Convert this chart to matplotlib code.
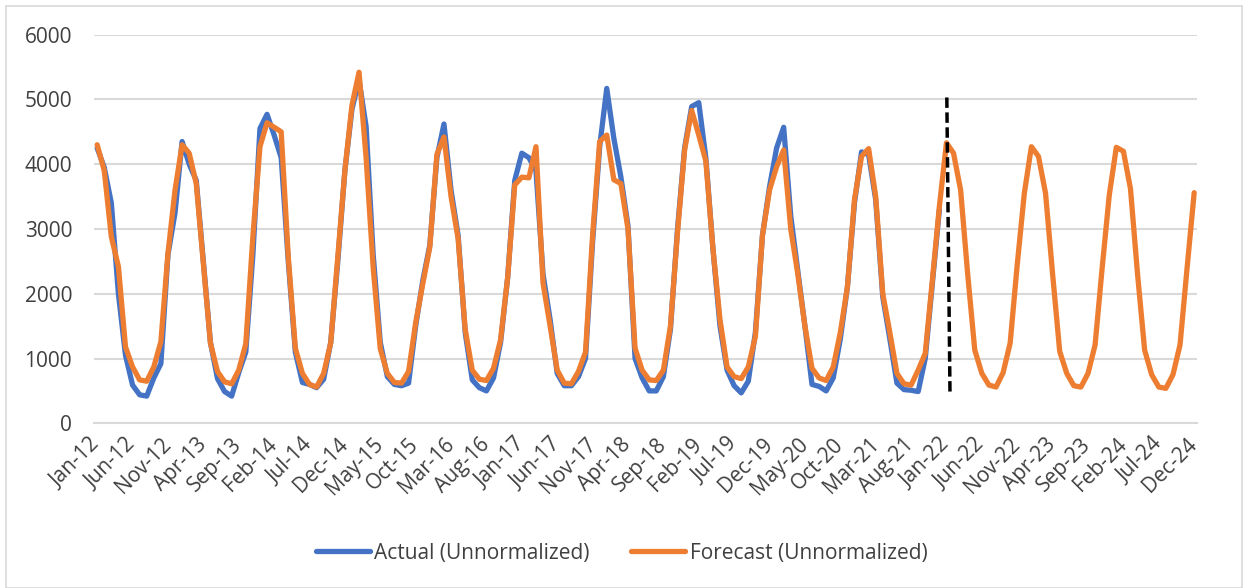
import pandas as pd
import matplotlib
matplotlib.use("Agg")
import matplotlib.pyplot as plt
from matplotlib.patches import Rectangle

# monthly categories Jan-12 .. Dec-24
months = pd.date_range("2012-01-01", "2024-12-01", freq="MS").strftime("%b-%y").tolist()

# actual values, Jan-12 .. Dec-21
actual = [
    4250, 3950, 3400, 2000, 1050, 590, 440, 420, 700, 920, 2600, 3250,
    4350, 4000, 3750, 2500, 1250, 690, 490, 420, 780, 1100, 2600, 4550,
    4770, 4450, 4100, 2500, 1100, 630, 600, 550, 680, 1250, 2500, 3900,
    4850, 5300, 4580, 2600, 1250, 720, 600, 580, 620, 1500, 2200, 2750,
    4100, 4620, 3600, 2900, 1400, 670, 550, 500, 700, 1250, 2250, 3750,
    4170, 4100, 3900, 2300, 1600, 770, 580, 580, 720, 1000, 2800, 4270,
    5170, 4400, 3800, 3050, 1000, 700, 500, 500, 720, 1450, 3000, 4250,
    4890, 4950, 4100, 2700, 1500, 820, 580, 470, 650, 1400, 2900, 3650,
    4250, 4570, 3200, 2350, 1500, 600, 570, 500, 700, 1300, 2100, 3400,
    4190, 4150, 3450, 1950, 1300, 620, 520, 510, 490, 1000, 2150, 3300,
]

# forecast values, Jan-12 .. Dec-24
forecast = [
    4300, 3900, 2880, 2420, 1180, 870, 670, 650, 870, 1260, 2620, 3600,
    4300, 4170, 3700, 2470, 1240, 800, 640, 610, 820, 1230, 2880, 4270,
    4640, 4570, 4500, 2570, 1160, 770, 600, 560, 770, 1240, 2570, 3900,
    4910, 5420, 4100, 2400, 1150, 770, 630, 620, 800, 1550, 2150, 2720,
    4150, 4420, 3500, 2850, 1450, 820, 680, 660, 850, 1290, 2250, 3680,
    3800, 3790, 4270, 2160, 1500, 820, 620, 610, 800, 1100, 2900, 4350,
    4450, 3760, 3700, 3000, 1160, 820, 670, 660, 820, 1500, 2950, 4220,
    4830, 4450, 4050, 2700, 1600, 870, 720, 690, 870, 1340, 2900, 3600,
    3960, 4220, 3000, 2300, 1500, 850, 700, 660, 870, 1400, 2100, 3450,
    4120, 4240, 3500, 2000, 1400, 770, 610, 590, 820, 1080, 2200, 3350,
    4330, 4170, 3600, 2300, 1130, 770, 590, 560, 780, 1240, 2450, 3550,
    4270, 4120, 3550, 2300, 1110, 770, 580, 560, 770, 1210, 2400, 3520,
    4260, 4200, 3620, 2300, 1130, 750, 560, 540, 750, 1210, 2400, 3560,
]

# forecast start marker (position in months from Jan-12, top and bottom value)
split_x = [120.05, 120.5]
split_y = [5030, 440]

plt.rcParams["font.family"] = ["Open Sans", "DejaVu Sans"]
text_color = "#404040"
grid_color = "#d9d9d9"

fig = plt.figure(figsize=(12.43, 5.88), dpi=100)
ax = fig.add_axes([0.0759, 0.2801, 0.8871, 0.661])

x_all = list(range(len(forecast)))
ax.plot(x_all[:len(actual)], actual, color="#4472C4", lw=3.8,
        solid_joinstyle="round", solid_capstyle="round",
        label="Actual (Unnormalized)", zorder=3)
ax.plot(x_all, forecast, color="#ED7D31", lw=3.8,
        solid_joinstyle="round", solid_capstyle="round",
        label="Forecast (Unnormalized)", zorder=4)
ax.plot(split_x, split_y, color="black", lw=2.5, dashes=(3, 1.3), zorder=5)

ax.set_xlim(-0.4, len(forecast) - 1 + 0.4)
ax.set_ylim(0, 6000)
ax.set_yticks(range(0, 6001, 1000))
ax.grid(axis="y", color=grid_color, lw=1.5)
ax.set_axisbelow(True)
for s in ["top", "right", "left"]:
    ax.spines[s].set_visible(False)
ax.spines["bottom"].set_color(grid_color)
ax.spines["bottom"].set_linewidth(1.5)

ticks = x_all[::5]
ax.set_xticks(ticks)
ax.set_xticklabels([months[i] for i in ticks], rotation=45, ha="right",
                   va="center", rotation_mode="anchor")
ax.tick_params(axis="x", length=0, pad=13, labelsize=15, labelcolor=text_color)
ax.tick_params(axis="y", length=0, pad=16, labelsize=15, labelcolor=text_color)

fig.legend(loc="center", bbox_to_anchor=(0.5, 1 - 553 / 588), ncol=2,
           frameon=False, fontsize=15, handlelength=2.6, handletextpad=0.2,
           columnspacing=2.0, labelcolor=text_color)

fig.patches.append(Rectangle((6 / 1243, 0), 1236 / 1243, 582 / 588,
                             transform=fig.transFigure, fill=False,
                             edgecolor=grid_color, lw=1.2))

fig.savefig("out.png", dpi=100)
